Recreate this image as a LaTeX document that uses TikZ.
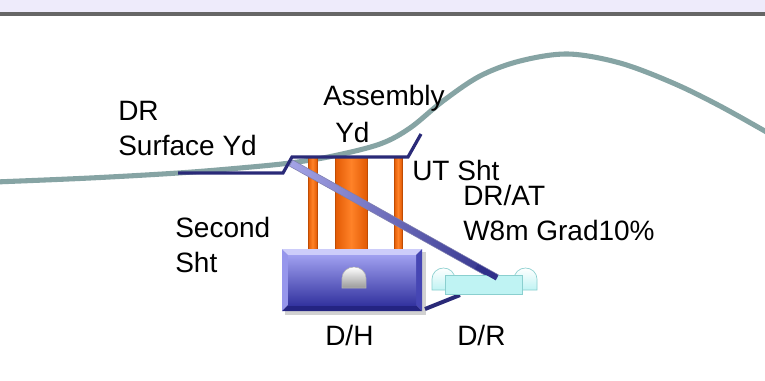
\documentclass[tikz,border=0pt]{standalone}
\usepackage{fontspec}
\setmainfont{Liberation Sans}
\usetikzlibrary{calc}
\definecolor{band}{HTML}{EEEBFB}
\definecolor{bandline}{HTML}{666666}
\definecolor{ground}{HTML}{86A4A4}
\definecolor{navy}{HTML}{2A2A78}
\definecolor{ramplt}{HTML}{A4A4E6}
\definecolor{rampdk}{HTML}{30308A}
\definecolor{orngdk}{HTML}{E25A04}
\definecolor{ornglt}{HTML}{FF8228}
\definecolor{cyanlt}{HTML}{BFF3F3}
\definecolor{cyanedge}{HTML}{8ACFCF}
\definecolor{bevtop}{HTML}{CDCDFA}
\definecolor{bevleft}{HTML}{9696EC}
\definecolor{bevright}{HTML}{4646B4}
\definecolor{bevbot}{HTML}{242482}
\definecolor{facetop}{HTML}{A0A0F0}
\definecolor{facebot}{HTML}{3434A0}
\tikzset{
  lbl/.style={inner sep=0pt, anchor=base west, font=\fontsize{21}{25}\selectfont, text=black},
  groundline/.style={draw=ground, line width=3.8pt, line cap=round},
  levelline/.style={draw=navy, line width=2.4pt, line join=miter},
  column/.style={left color=orngdk, right color=orngdk, middle color=ornglt, draw=orngdk!85!black, line width=0.4pt},
  dome/.style={draw=cyanedge, line width=0.5pt, top color=white, bottom color=cyanlt},
}
\begin{document}
\begin{tikzpicture}[x=0.75pt,y=-0.75pt]
\useasboundingbox (0,0) rectangle (765,380);
\fill[white] (0,0) rectangle (765,380);

% header band
\fill[band] (0,0) rectangle (765,12);
\draw[bandline, line width=3pt] (0,13.5) -- (765,13.5);

% ground profile
\draw[groundline] plot[smooth, tension=0.55] coordinates {
  (-5,182) (90,178) (178,173) (240,168) (290,163) (333,156) (380,144)
  (410,128) (443,101) (480,76) (520,61) (568,54) (620,63) (673,83)
  (720,106) (770,134)};

% shafts
\shade[column] (308,157) rectangle (317,249);
\shade[column] (335,157) rectangle (367,249);
\shade[column] (394,157) rectangle (402,249);

% yard levels
\coordinate (s1) at (178,173);
\coordinate (s2) at (283,173);
\coordinate (s3) at (292,157);
\coordinate (s4) at (408,157);
\coordinate (s5) at (421,134);
\draw[levelline] (s1) -- (s2) -- (s3) -- (s4) -- (s5);

% decline ramp
\coordinate (r1) at (291,163);
\coordinate (r2) at (497,278);
\shade[left color=ramplt, right color=rampdk, draw=navy!60, line width=0.4pt]
  ($(r1)!2.6pt!90:(r2)$) -- ($(r2)!2.6pt!-90:(r1)$) -- ($(r2)!2.6pt!90:(r1)$) -- ($(r1)!2.6pt!-90:(r2)$) -- cycle;

% D/H: bevelled box
\fill[black!18] (285,252) rectangle (426,315);
\fill[bevtop] (282,249) -- (422,249) -- (416,255) -- (288,255) -- cycle;
\fill[bevleft] (282,249) -- (288,255) -- (288,305) -- (282,311) -- cycle;
\fill[bevright] (422,249) -- (422,311) -- (416,305) -- (416,255) -- cycle;
\fill[bevbot] (282,311) -- (288,305) -- (416,305) -- (422,311) -- cycle;
\shade[top color=facetop, bottom color=facebot] (288,255) rectangle (416,305);
\shade[top color=white, bottom color=black!40, draw=black!30, line width=0.4pt]
  (342,288) -- (342,278) arc[start angle=180, end angle=360, x radius=12, y radius=11] -- (366,288) -- cycle;

% D/R connection
\coordinate (c1) at (425,309);
\coordinate (c2) at (460,295);
\draw[navy, line width=3pt] (c1) -- (c2);

% D/R unit
\shade[dome] (432,290) -- (432,279) arc[start angle=180, end angle=360, x radius=11.5, y radius=11] -- (455,290) -- cycle;
\shade[dome] (514,290) -- (514,279) arc[start angle=180, end angle=360, x radius=11.5, y radius=11] -- (537,290) -- cycle;
\fill[cyanlt, draw=cyanedge, line width=0.5pt] (445,275) rectangle (522,294);

% ramp end over the unit
\draw[rampdk, line width=4pt] ($(r1)!0.9!(r2)$) -- (r2);

% labels
\node[lbl] (dr) at (118,120) {DR};
\node[lbl] (sy) at (118,155) {Surface Yd};
\node[lbl] (asm) at (323,105) {Assembly};
\node[lbl] (ayd) at (335,142) {Yd};
\node[lbl] (ut) at (412,180) {UT Sht};
\node[lbl] (drat) at (463,205) {DR/AT};
\node[lbl] (grad) at (463,240) {W8m Grad10\%};
\node[lbl] (sec) at (175,237) {Second};
\node[lbl] (sht) at (175,272) {Sht};
\node[lbl] (dh) at (325,345) {D/H};
\node[lbl] (drr) at (457,345) {D/R};
\end{tikzpicture}
\end{document}
